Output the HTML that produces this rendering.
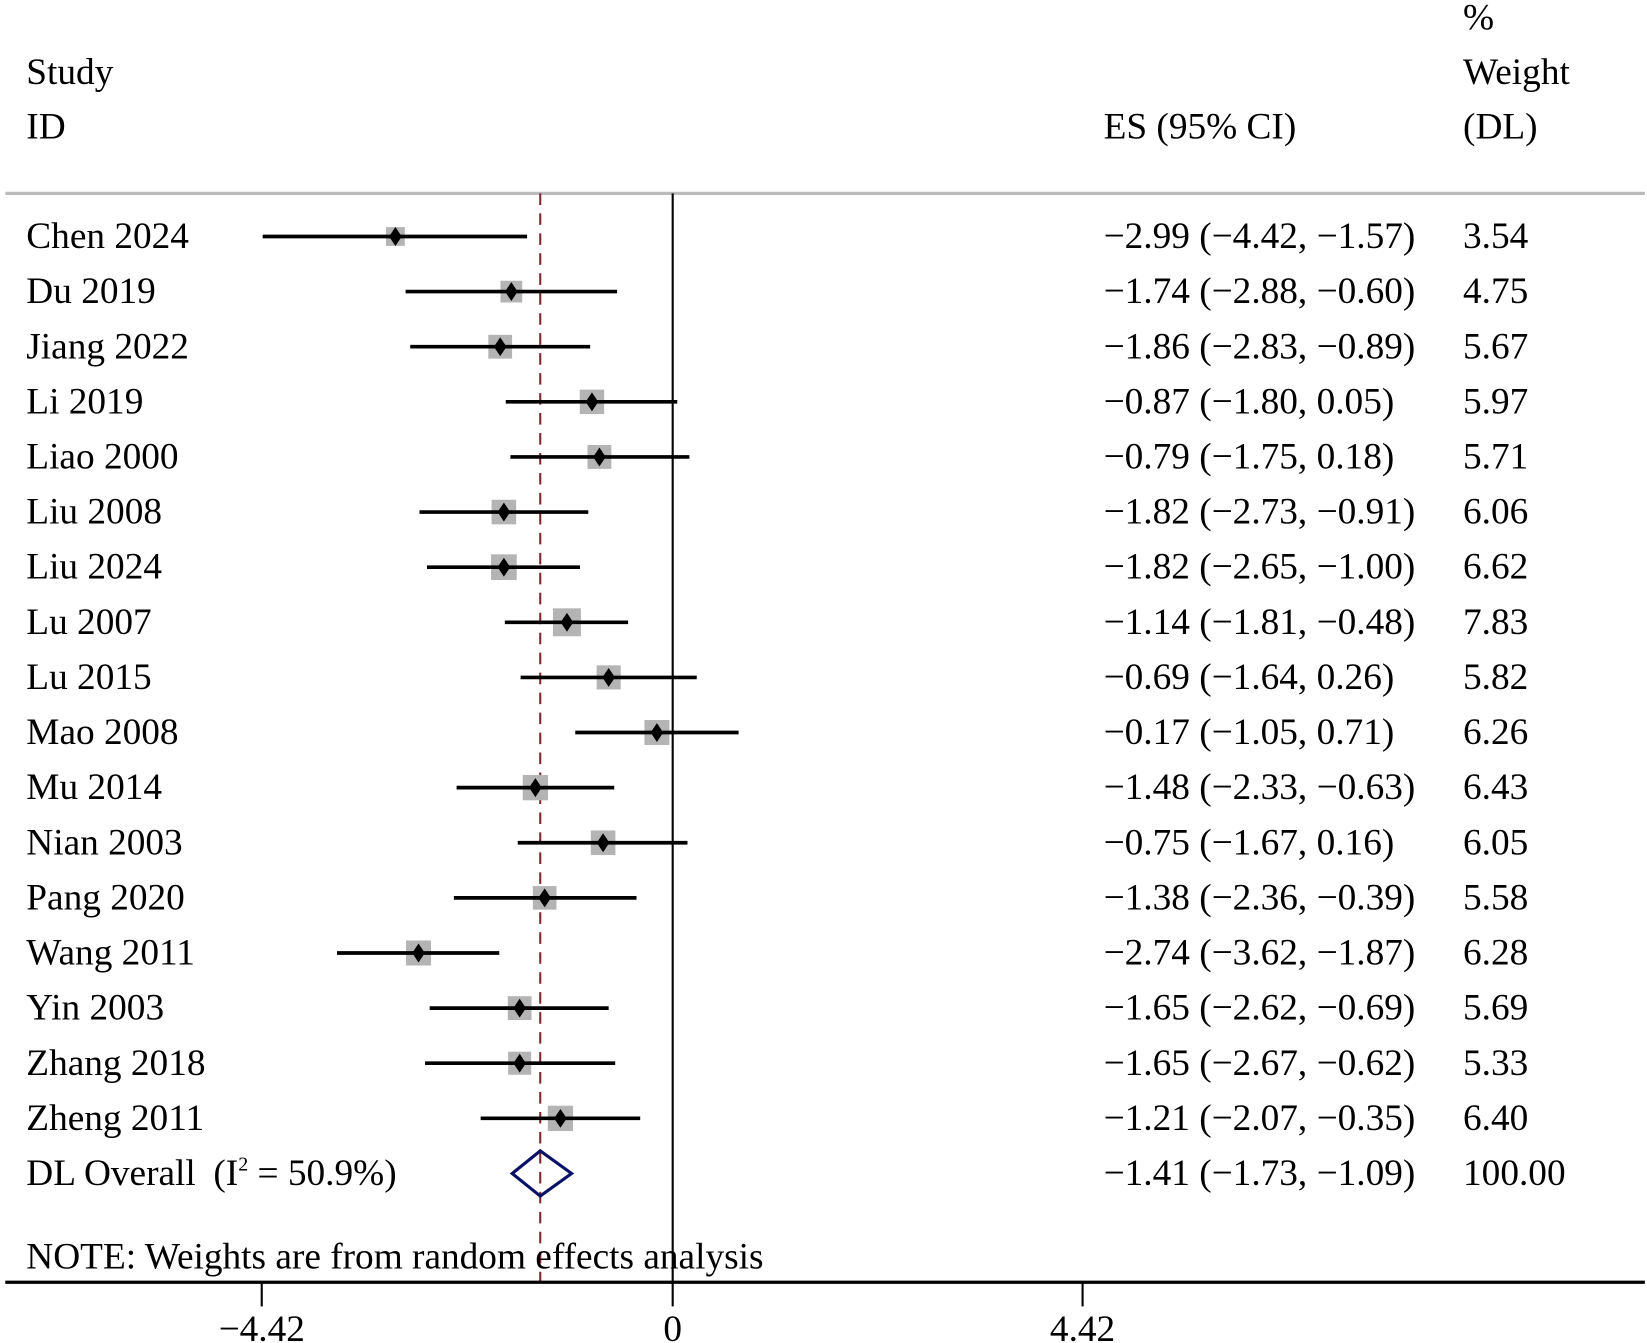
<!DOCTYPE html>
<html><head><meta charset="utf-8"><style>
html,body{margin:0;padding:0;background:#fff;}
svg{display:block;}
text{font-family:"Liberation Serif",serif;font-size:35.5px;fill:#000;}
</style></head><body>
<svg id="s" width="1647" height="1343" viewBox="0 0 1567 1277.8" xmlns="http://www.w3.org/2000/svg">
<rect width="1567" height="1278" fill="#fff"/>
<text x="1392" y="28">%</text>
<text x="25" y="80">Study</text>
<text x="1392" y="80">Weight</text>
<text x="25" y="132">ID</text>
<text x="1050" y="132">ES (95% CI)</text>
<text x="1392" y="132">(DL)</text>
<line x1="5" y1="184" x2="1565" y2="184" stroke="#bbb" stroke-width="3"/>
<line x1="640" y1="184" x2="640" y2="1220" stroke="#000" stroke-width="2"/>
<line x1="514" y1="184" x2="514" y2="1220" stroke="#7b2a2e" stroke-width="2" stroke-dasharray="11,8"/>
<g id="m"></g>
<polygon points="487.3,1116.5 514,1095 543.8,1116.5 514,1138" fill="none" stroke="#0b1266" stroke-width="3"/>
<g>
<text x="25" y="236">Chen 2024</text>
<text x="25" y="288.4">Du 2019</text>
<text x="25" y="340.9">Jiang 2022</text>
<text x="25" y="393.3">Li 2019</text>
<text x="25" y="445.8">Liao 2000</text>
<text x="25" y="498.2">Liu 2008</text>
<text x="25" y="550.6">Liu 2024</text>
<text x="25" y="603.1">Lu 2007</text>
<text x="25" y="655.5">Lu 2015</text>
<text x="25" y="708">Mao 2008</text>
<text x="25" y="760.4">Mu 2014</text>
<text x="25" y="812.8">Nian 2003</text>
<text x="25" y="865.3">Pang 2020</text>
<text x="25" y="917.7">Wang 2011</text>
<text x="25" y="970.2">Yin 2003</text>
<text x="25" y="1022.6">Zhang 2018</text>
<text x="25" y="1075">Zheng 2011</text>
<text x="25" y="1127.5">DL Overall</text>
<text x="203" y="1127.5">(I<tspan dy="-14" font-size="19">2</tspan><tspan dy="14"> = 50.9%)</tspan></text>
</g>
<g>
<text x="1050" y="236">−2.99 (−4.42, −1.57)</text>
<text x="1050" y="288.4">−1.74 (−2.88, −0.60)</text>
<text x="1050" y="340.9">−1.86 (−2.83, −0.89)</text>
<text x="1050" y="393.3">−0.87 (−1.80, 0.05)</text>
<text x="1050" y="445.8">−0.79 (−1.75, 0.18)</text>
<text x="1050" y="498.2">−1.82 (−2.73, −0.91)</text>
<text x="1050" y="550.6">−1.82 (−2.65, −1.00)</text>
<text x="1050" y="603.1">−1.14 (−1.81, −0.48)</text>
<text x="1050" y="655.5">−0.69 (−1.64, 0.26)</text>
<text x="1050" y="708">−0.17 (−1.05, 0.71)</text>
<text x="1050" y="760.4">−1.48 (−2.33, −0.63)</text>
<text x="1050" y="812.8">−0.75 (−1.67, 0.16)</text>
<text x="1050" y="865.3">−1.38 (−2.36, −0.39)</text>
<text x="1050" y="917.7">−2.74 (−3.62, −1.87)</text>
<text x="1050" y="970.2">−1.65 (−2.62, −0.69)</text>
<text x="1050" y="1022.6">−1.65 (−2.67, −0.62)</text>
<text x="1050" y="1075">−1.21 (−2.07, −0.35)</text>
<text x="1050" y="1127.5">−1.41 (−1.73, −1.09)</text>
</g>
<g>
<text x="1392" y="236">3.54</text>
<text x="1392" y="288.4">4.75</text>
<text x="1392" y="340.9">5.67</text>
<text x="1392" y="393.3">5.97</text>
<text x="1392" y="445.8">5.71</text>
<text x="1392" y="498.2">6.06</text>
<text x="1392" y="550.6">6.62</text>
<text x="1392" y="603.1">7.83</text>
<text x="1392" y="655.5">5.82</text>
<text x="1392" y="708">6.26</text>
<text x="1392" y="760.4">6.43</text>
<text x="1392" y="812.8">6.05</text>
<text x="1392" y="865.3">5.58</text>
<text x="1392" y="917.7">6.28</text>
<text x="1392" y="970.2">5.69</text>
<text x="1392" y="1022.6">5.33</text>
<text x="1392" y="1075">6.40</text>
<text x="1392" y="1127.5">100.00</text>
</g>
<text x="25" y="1207">NOTE: Weights are from random effects analysis</text>
<line x1="5" y1="1220" x2="1565" y2="1220" stroke="#000" stroke-width="3"/>
<line x1="249" y1="1220" x2="249" y2="1243" stroke="#000" stroke-width="2"/>
<line x1="640" y1="1220" x2="640" y2="1243" stroke="#000" stroke-width="2"/>
<line x1="1030" y1="1220" x2="1030" y2="1243" stroke="#000" stroke-width="2"/>
<text x="249" y="1276" text-anchor="middle">−4.42</text>
<text x="640" y="1276" text-anchor="middle">0</text>
<text x="1030" y="1276" text-anchor="middle">4.42</text>
</svg>
<script>
var d=[[376.2,249.9,501.5,3.54],[486.5,385.9,587.1,4.75],[475.9,390.3,561.5,5.67],[563.2,481.2,644.4,5.97],[570.3,485.6,655.9,5.71],[479.4,399.1,559.7,6.06],[479.4,406.2,551.8,6.62],[539.4,480.3,597.6,7.83],[579.1,495.3,662.9,5.82],[625.0,547.3,702.7,6.26],[509.4,434.4,584.4,6.43],[573.8,492.6,654.1,6.05],[518.2,431.8,605.6,5.58],[398.2,320.6,475.0,6.28],[494.4,408.8,579.1,5.69],[494.4,404.4,585.3,5.33],[533.2,457.3,609.1,6.40]];
var h='';
d.forEach(function(r,i){var y=225+52.44*i,s=9.5*Math.sqrt(r[3]);
h+='<rect x="'+(r[0]-s/2)+'" y="'+(y-s/2)+'" width="'+s+'" height="'+s+'" fill="#b4b4b4"/>';
h+='<line x1="'+r[1]+'" y1="'+y+'" x2="'+r[2]+'" y2="'+y+'" stroke="#000" stroke-width="3.5"/>';
h+='<polygon points="'+(r[0]-6)+','+y+' '+r[0]+','+(y-9)+' '+(r[0]+6)+','+y+' '+r[0]+','+(y+9)+'" fill="#000"/>';});
document.getElementById('m').innerHTML=h;
</script>
</body></html>
